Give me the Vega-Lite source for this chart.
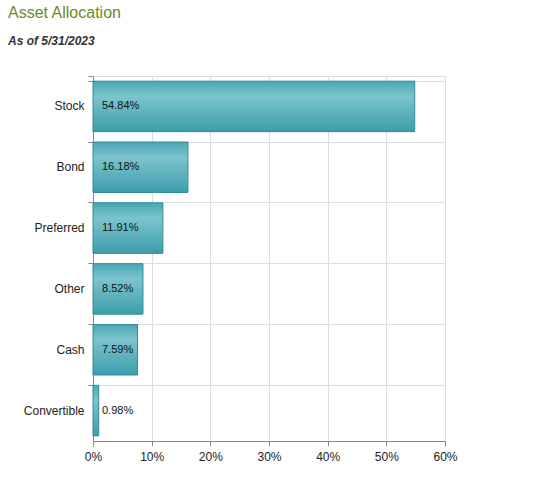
{
  "$schema": "https://vega.github.io/schema/vega-lite/v6.json",
  "autosize": "none",
  "width": 352,
  "height": 365,
  "padding": {"left": 93, "top": 76, "right": 107, "bottom": 48},
  "background": "white",
  "title": {
    "text": "Asset Allocation",
    "subtitle": "As of 5/31/2023",
    "anchor": "start",
    "frame": "group",
    "dx": -85,
    "offset": 23,
    "font": "Liberation Sans",
    "fontSize": 16,
    "fontWeight": "normal",
    "color": "#6b8a1e",
    "subtitleFont": "Liberation Sans",
    "subtitleFontSize": 12,
    "subtitleFontWeight": "bold",
    "subtitleFontStyle": "italic",
    "subtitleColor": "#333333",
    "subtitlePadding": 15
  },
  "data": {
    "values": [
      {"type": "Stock", "share": 0.5484},
      {"type": "Bond", "share": 0.1618},
      {"type": "Preferred", "share": 0.1191},
      {"type": "Other", "share": 0.0852},
      {"type": "Cash", "share": 0.0759},
      {"type": "Convertible", "share": 0.0098}
    ]
  },
  "encoding": {
    "y": {
      "field": "type",
      "type": "nominal",
      "sort": null,
      "title": null,
      "scale": {"paddingInner": 0.17, "paddingOuter": 0.085},
      "axis": {
        "bandPosition": 0,
        "tickExtra": true,
        "grid": true,
        "gridColor": "#dddddd",
        "domainColor": "#888888",
        "tickColor": "#888888",
        "tickSize": 5,
        "labelFont": "Liberation Sans",
        "labelFontSize": 12,
        "labelColor": "#222222",
        "labelPadding": 4
      }
    }
  },
  "layer": [
    {
      "mark": {
        "type": "bar",
        "stroke": "#2f8c99",
        "strokeWidth": 1,
        "fill": {
          "gradient": "linear",
          "x1": 0, "y1": 0, "x2": 0, "y2": 1,
          "stops": [
            {"offset": 0, "color": "#4aa6b4"},
            {"offset": 0.3, "color": "#7cc4cd"},
            {"offset": 1, "color": "#3d9dab"}
          ]
        }
      },
      "encoding": {
        "x": {
          "field": "share",
          "type": "quantitative",
          "title": null,
          "scale": {"domain": [0, 0.6], "nice": false},
          "axis": {
            "values": [0, 0.1, 0.2, 0.3, 0.4, 0.5, 0.6],
            "format": ".0%",
            "labelFlush": false,
            "grid": true,
            "gridColor": "#dddddd",
            "domainColor": "#888888",
            "tickColor": "#888888",
            "tickSize": 5,
            "labelFont": "Liberation Sans",
            "labelFontSize": 12,
            "labelColor": "#222222",
            "labelPadding": 5
          }
        }
      }
    },
    {
      "mark": {
        "type": "text",
        "align": "left",
        "baseline": "middle",
        "dx": 9,
        "font": "Liberation Sans",
        "fontSize": 11,
        "color": "#111111"
      },
      "encoding": {
        "x": {"datum": 0, "type": "quantitative"},
        "text": {"field": "share", "type": "quantitative", "format": ".2%"},
        "detail": {"field": "type"}
      }
    }
  ]
}
